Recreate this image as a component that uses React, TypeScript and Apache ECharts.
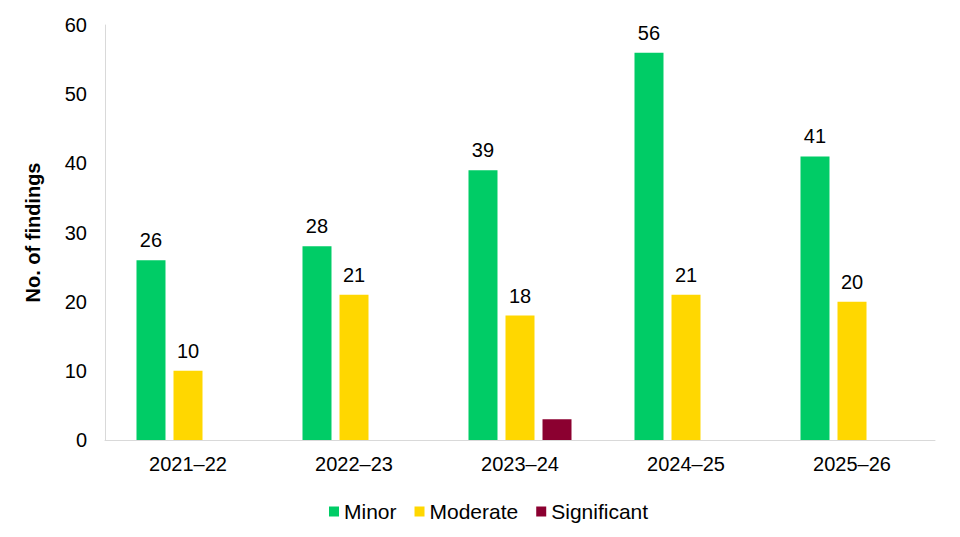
import React, { useEffect, useRef } from "react";
import * as echarts from "echarts";

const categories = ["2021–22", "2022–23", "2023–24", "2024–25", "2025–26"];
const minor = [26, 28, 39, 56, 41];
const moderate = [10, 21, 18, 21, 20];
const significant: (number | null)[] = [null, null, 3, null, null];
const yTicks = { min: 0, max: 60, interval: 10 };

const FONT = "Liberation Sans, Arial, sans-serif";

export default function App() {
  const ref = useRef<HTMLDivElement>(null);
  useEffect(() => {
    if (!ref.current) return;
    const chart = echarts.init(ref.current, undefined, { renderer: "svg" });
    const label = {
      show: true,
      position: "top" as const,
      distance: 10,
      color: "#000",
      fontSize: 20,
      fontFamily: FONT,
    };
    chart.setOption({
      animation: false,
      textStyle: { fontFamily: FONT },
      grid: { left: 105, right: 25, top: 25, bottom: 97, containLabel: false },
      legend: {
        left: 324,
        top: 496,
        itemWidth: 10,
        itemHeight: 10,
        itemGap: 18,
        icon: "rect",
        textStyle: { fontSize: 21, color: "#000", fontFamily: FONT },
        data: ["Minor", "Moderate", "Significant"],
      },
      xAxis: {
        type: "category",
        data: categories,
        axisLine: { lineStyle: { color: "#D9D9D9", width: 1 } },
        axisTick: { show: false },
        axisLabel: { color: "#000", fontSize: 20, margin: 14, fontFamily: FONT },
      },
      yAxis: {
        type: "value",
        min: yTicks.min,
        max: yTicks.max,
        interval: yTicks.interval,
        name: "No. of findings",
        nameLocation: "middle",
        nameGap: 62,
        nameTextStyle: { fontSize: 20, fontWeight: "bold", color: "#000", fontFamily: FONT },
        axisLine: { show: true, lineStyle: { color: "#D9D9D9", width: 1 } },
        axisTick: { show: false },
        splitLine: { show: false },
        axisLabel: { color: "#000", fontSize: 20, margin: 18, fontFamily: FONT },
      },
      series: [
        {
          name: "Minor",
          type: "bar",
          data: minor,
          barWidth: 29,
          barGap: "27.6%",
          itemStyle: { color: "#00CC66" },
          label,
        },
        {
          name: "Moderate",
          type: "bar",
          data: moderate,
          barWidth: 29,
          barGap: "27.6%",
          itemStyle: { color: "#FFD700" },
          label,
        },
        {
          name: "Significant",
          type: "bar",
          data: significant,
          barWidth: 29,
          barGap: "27.6%",
          itemStyle: { color: "#8B0030" },
          label: { show: false },
        },
      ],
    });
    return () => chart.dispose();
  }, []);
  return <div ref={ref} style={{ width: 960, height: 537, position: "absolute", left: 0, top: 0 }} />;
}
